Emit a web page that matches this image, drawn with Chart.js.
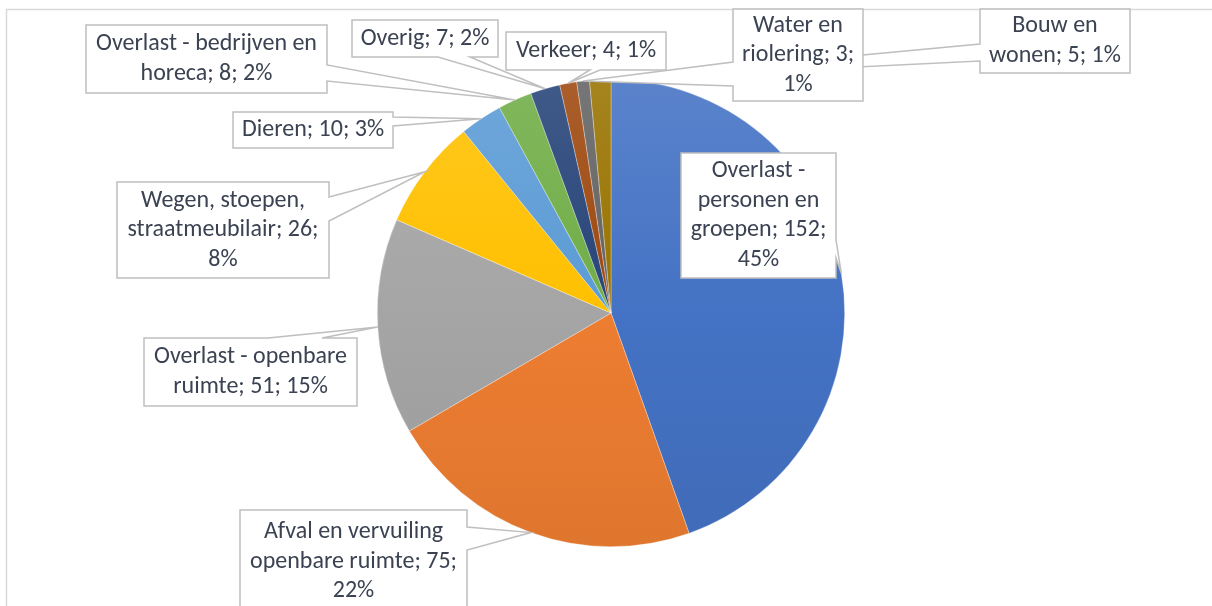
<!DOCTYPE html>
<html>
<head>
<meta charset="utf-8">
<title>Meldingen per categorie</title>
<script src="https://cdn.jsdelivr.net/npm/chart.js@4.4.0/dist/chart.umd.min.js"></script>
<style>
  body { margin: 0; background: #fff; }
  canvas { display: block; }
</style>
</head>
<body>
<canvas id="myChart" width="1212" height="606"></canvas>
<script>
// categorieen en aantallen (volgorde = volgorde van de taartpunten, met de klok mee vanaf boven)
const categories = [
  'Overlast - personen en groepen',
  'Afval en vervuiling openbare ruimte',
  'Overlast - openbare ruimte',
  'Wegen, stoepen, straatmeubilair',
  'Dieren',
  'Overlast - bedrijven en horeca',
  'Overig',
  'Verkeer',
  'Water en riolering',
  'Bouw en wonen'
];
const values = [152, 75, 51, 26, 10, 8, 7, 4, 3, 5];
const colors = ['#4472C4', '#ED7D31', '#A5A5A5', '#FFC000', '#5B9BD5',
                '#70AD47', '#264478', '#9E480E', '#636363', '#997300'];

// tekstvakken: positie en kant waar het puntje uitsteekt (a, b = begin/eind van de voet)
const callouts = [
  { x: 681, y: 153, w: 155, h: 125, side: 'right', a: 240, b: 258 },
  { x: 240, y: 510, w: 227, h: 103, side: 'right', a: 527, b: 550 },
  { x: 144, y: 338, w: 213, h: 68, side: 'top', a: 268, b: 322 },
  { x: 117, y: 182, w: 212, h: 96, side: 'right', a: 197, b: 221 },
  { x: 233, y: 112, w: 160, h: 36, side: 'right', a: 117, b: 126 },
  { x: 86, y: 25, w: 241, h: 68, side: 'right', a: 65, b: 81 },
  { x: 352, y: 20, w: 146, h: 37, side: 'bottom', a: 438, b: 470 },
  { x: 506, y: 32, w: 160, h: 38, side: 'bottom', a: 590, b: 600 },
  { x: 733, y: 9, w: 130, h: 92, side: 'left', a: 62, b: 86 },
  { x: 980, y: 9, w: 150, h: 64, side: 'left', a: 44, b: 61 }
];

const total = values.reduce((s, v) => s + v, 0);
const percentages = values.map(v => Math.round(v / total * 100));

const fontFamily = "Carlito, Lato, 'Open Sans', sans-serif";
const textColor = '#3B4252';

function shade(hex, amt) { // amt > 0 lichter, < 0 donkerder
  const n = parseInt(hex.slice(1), 16);
  let r = n >> 16, g = (n >> 8) & 255, b = n & 255;
  const t = amt > 0 ? 255 : 0, p = Math.abs(amt);
  r = Math.round(r + (t - r) * p);
  g = Math.round(g + (t - g) * p);
  b = Math.round(b + (t - b) * p);
  return 'rgb(' + r + ',' + g + ',' + b + ')';
}

function wrap(c, text, maxW) {
  const words = text.split(' ');
  const lines = [];
  let line = '';
  words.forEach(w => {
    const test = line ? line + ' ' + w : w;
    if (line && c.measureText(test).width > maxW) {
      lines.push(line);
      line = w;
    } else {
      line = test;
    }
  });
  if (line) lines.push(line);
  return lines;
}

// lichtgrijze rand linksboven (rand van het oorspronkelijke grafiekvlak)
const framePlugin = {
  id: 'frame',
  beforeDraw(chart) {
    const c = chart.ctx;
    c.save();
    c.strokeStyle = '#D9D9D9';
    c.lineWidth = 1.5;
    c.beginPath();
    c.moveTo(1212, 9.5);
    c.lineTo(6.5, 9.5);
    c.lineTo(6.5, 606);
    c.stroke();
    c.restore();
  }
};

const calloutPlugin = {
  id: 'callouts',
  afterDraw(chart) {
    const c = chart.ctx;
    const arcs = chart.getDatasetMeta(0).data;
    c.save();
    c.font = '20px ' + fontFamily;
    const size = 20 * 221 / c.measureText('Overlast - bedrijven en').width;
    c.font = size.toFixed(2) + 'px ' + fontFamily;
    c.textAlign = 'center';
    c.textBaseline = 'middle';
    // achterste eerst, zodat 'Water en riolering' boven 'Bouw en wonen' ligt
    for (let i = callouts.length - 1; i >= 0; i--) {
      const bx = callouts[i];
      const arc = arcs[i];
      const mid = (arc.startAngle + arc.endAngle) / 2;
      const tx = arc.x + Math.cos(mid) * arc.outerRadius;
      const ty = arc.y + Math.sin(mid) * arc.outerRadius;
      const L = bx.x, T = bx.y, R = bx.x + bx.w, B = bx.y + bx.h;

      c.beginPath();
      c.moveTo(L, T);
      if (bx.side === 'top') { c.lineTo(bx.a, T); c.lineTo(tx, ty); c.lineTo(bx.b, T); }
      c.lineTo(R, T);
      if (bx.side === 'right') { c.lineTo(R, bx.a); c.lineTo(tx, ty); c.lineTo(R, bx.b); }
      c.lineTo(R, B);
      if (bx.side === 'bottom') { c.lineTo(bx.b, B); c.lineTo(tx, ty); c.lineTo(bx.a, B); }
      c.lineTo(L, B);
      if (bx.side === 'left') { c.lineTo(L, bx.b); c.lineTo(tx, ty); c.lineTo(L, bx.a); }
      c.closePath();
      c.fillStyle = '#fff';
      c.fill();
      c.strokeStyle = '#BFBFBF';
      c.lineWidth = 1.5;
      c.stroke();

      const text = categories[i] + '; ' + values[i] + '; ' + percentages[i] + '%';
      const lines = wrap(c, text, bx.w - 6);
      const lh = 29.5;
      const cy = T + bx.h / 2 - (lines.length - 1) * lh / 2;
      c.fillStyle = textColor;
      lines.forEach((ln, k) => c.fillText(ln, L + bx.w / 2, cy + k * lh));
    }
    c.restore();
  }
};

const ctx = document.getElementById('myChart').getContext('2d');
const chart = new Chart(ctx, {
  type: 'pie',
  data: {
    labels: categories,
    datasets: [{
      data: values,
      backgroundColor: function (context) {
        const base = colors[context.dataIndex % colors.length];
        const area = context.chart.chartArea;
        if (!area) return base;
        const g = context.chart.ctx.createLinearGradient(0, area.top, 0, area.bottom);
        g.addColorStop(0, shade(base, 0.12));
        g.addColorStop(0.5, base);
        g.addColorStop(1, shade(base, -0.06));
        return g;
      },
      borderColor: 'rgba(255,255,255,0.5)',
      borderWidth: 0.6
    }]
  },
  options: {
    responsive: false,
    animation: false,
    layout: { padding: { left: 376, right: 366, top: 79, bottom: 59 } },
    plugins: {
      legend: { display: false },
      tooltip: { enabled: false }
    }
  },
  plugins: [framePlugin, calloutPlugin]
});
</script>
</body>
</html>
